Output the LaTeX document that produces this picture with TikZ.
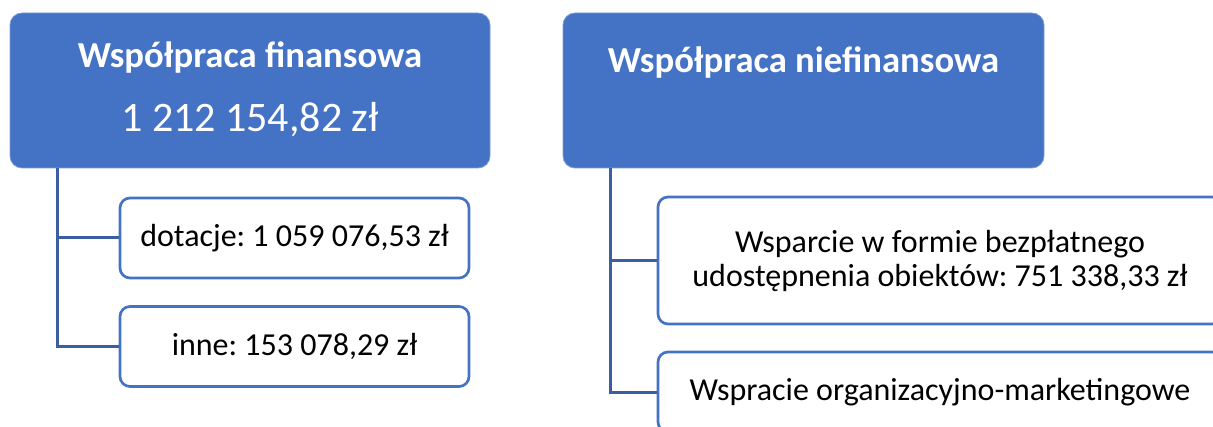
\documentclass[tikz,border=0pt]{standalone}
\usepackage{fontspec}
\setmainfont{Carlito}
\usepackage{xcolor}
\usepackage{tikz}
\usetikzlibrary{positioning,calc}
\frenchspacing

\definecolor{bleucadre}{HTML}{4472C4}
\definecolor{bleulien}{HTML}{3A5DA3}

\begin{document}
\begin{tikzpicture}[x=0.75pt,y=-0.75pt]

\tikzstyle{tete}=[rectangle, rounded corners=9pt, fill=bleucadre, draw=bleucadre!70!white, line width=0.6pt, minimum height=116.25pt, inner sep=0pt]
\tikzstyle{titre}=[text=white, font=\fontsize{27.5}{33}\selectfont\bfseries, inner sep=0pt]
\tikzstyle{montant}=[text=white, font=\fontsize{31.5}{38}\selectfont, inner sep=0pt]
\tikzstyle{poste}=[rectangle, draw=bleucadre, line width=2pt, rounded corners=7.5pt, fill=white, text=black, font=\fontsize{24}{25.5}\selectfont, align=center, inner sep=0pt]
\tikzstyle{lien}=[draw=bleulien, line width=2.25pt]

\useasboundingbox (0,0) rectangle (1213,427);
\clip (0,0) rectangle (1213,427);

%les cadres du haut
\node[tete, minimum width=360pt] (fin) at (250,90.5) {};
\node[tete, minimum width=360.75pt] (nonfin) at (803.5,90.5) {};
\node[titre, anchor=base] (fintitre) at (250,68) {Współpraca finansowa};
\node[montant, anchor=base] (finmontant) at (250,132) {1 212 154,82 zł};
\node[titre, anchor=base] (nftitre) at (803.5,73) {Współpraca niefinansowa};

%les postes
\node[poste, minimum width=261.75pt, minimum height=60pt] (dotacje) at (294.5,238) {dotacje: 1 059 076,53 zł};
\node[poste, minimum width=261.75pt, minimum height=60pt] (inne) at (294.5,346.5) {inne: 153 078,29 zł};
\node[poste, minimum width=423pt, minimum height=95.25pt] (obiekty) at (940,260.5) {Wsparcie w formie bezpłatnego\\udostępnenia obiektów: 751 338,33 zł};
\node[poste, minimum width=423pt, minimum height=60pt] (marketing) at (940,392) {Wspracie organizacyjno-marketingowe};

%les liens
\coordinate (finpied) at (57,168);
\coordinate (nfpied) at (610,168);
\draw[lien] (finpied) |- (dotacje.west);
\draw[lien] (finpied) |- (inne.west);
\draw[lien] (nfpied) |- (obiekty.west);
\draw[lien] (nfpied) |- (marketing.west);
\end{tikzpicture}
\end{document}
